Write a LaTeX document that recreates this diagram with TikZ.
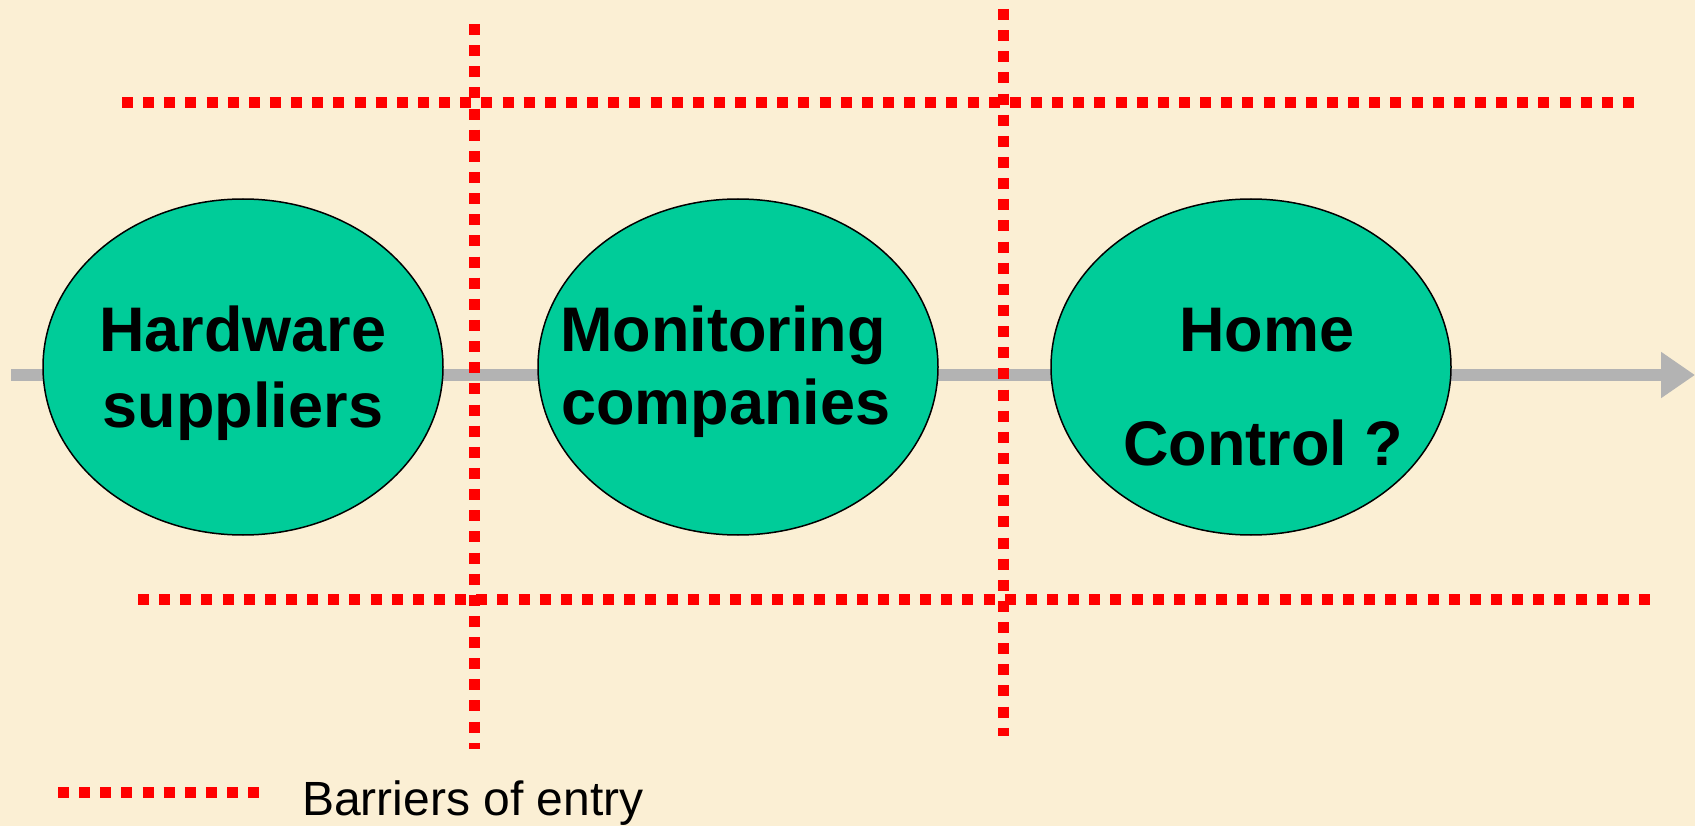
\documentclass[tikz,border=0pt]{standalone}
\usepackage{fontspec}
\setmainfont{Liberation Sans}
\usetikzlibrary{shapes.geometric,arrows.meta}
\definecolor{paper}{RGB}{251,239,212}
\definecolor{blobfill}{RGB}{0,204,153}
\definecolor{flowgray}{RGB}{179,179,179}
\definecolor{barrierred}{RGB}{255,0,0}
\tikzset{
  blob/.style={ellipse, draw=black, line width=1.5pt, fill=blobfill,
    minimum width=400pt, minimum height=336pt, inner sep=0pt},
  caption/.style={anchor=base, inner sep=0pt, text=black,
    font=\fontsize{63}{76}\selectfont\bfseries},
  barrier/.style={draw=barrierred, line width=11pt,
    dash pattern=on 11pt off 10.14pt},
  flow/.style={draw=flowgray, line width=12pt,
    -{Triangle[length=34pt,width=44pt]}},
}
\begin{document}
\begin{tikzpicture}[x=1pt,y=-1pt]
  % page and background
  \useasboundingbox (0,0) rectangle (1695,826);
  \fill[paper] (0,0) rectangle (1695,826);

  % value chain arrow running behind the stages
  \coordinate (flowstart) at (11,375);
  \coordinate (flowend) at (1695,375);
  \draw[flow] (flowstart) -- (flowend);

  % stages of the chain
  \node[blob] (hw) at (243,367) {};
  \node[blob] (mon) at (738,367) {};
  \node[blob] (home) at (1251,367) {};

  \node[caption] (hwa) at (243,352) {Hardware};
  \node[caption] (hwb) at (243,427) {suppliers};
  \node[caption] (mona) at (723,352) {Monitoring};
  \node[caption] (monb) at (726,424) {companies};
  \node[caption] (homea) at (1267,352) {Home};
  \node[caption] (homeb) at (1263,465) {Control ?};

  % barriers of entry
  \coordinate (topL) at (122,103);
  \coordinate (topR) at (1634,103);
  \coordinate (botL) at (138,599);
  \coordinate (botR) at (1650,599);
  \coordinate (v1T) at (474,24);
  \coordinate (v1B) at (474,749);
  \coordinate (v2T) at (1003,9);
  \coordinate (v2B) at (1003,736);
  \draw[barrier] (topL) -- (topR);
  \draw[barrier] (botL) -- (botR);
  \draw[barrier] (v1T) -- (v1B);
  \draw[barrier] (v2T) -- (v2B);

  % legend
  \coordinate (legL) at (58,792);
  \coordinate (legR) at (259,792);
  \draw[barrier] (legL) -- (legR);
  \node[anchor=base west, inner sep=0pt, font=\fontsize{48}{57}\selectfont]
    (legtext) at (302,815) {Barriers of entry};
\end{tikzpicture}
\end{document}
